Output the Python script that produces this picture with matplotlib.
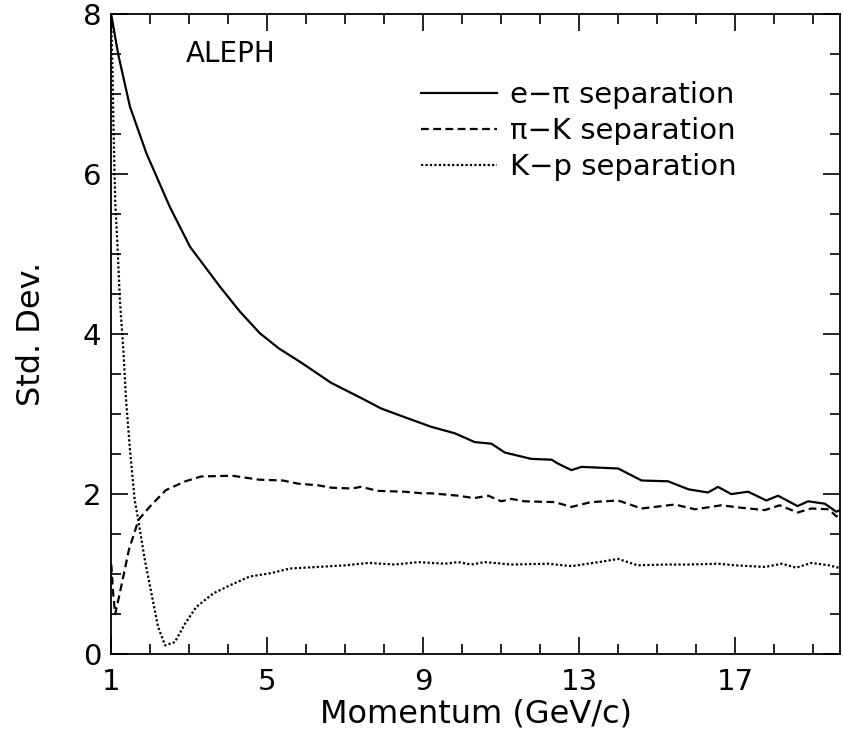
import matplotlib.pyplot as plt
import numpy as np

# e-pi separation (solid)
e_pi_p = [1.0, 1.18, 1.48, 1.9, 2.5, 3.02, 3.79, 4.3, 4.81, 5.3, 5.85, 6.64, 7.33, 7.92, 8.53, 9.21,
          9.81, 10.32, 10.75, 11.09, 11.77, 12.29, 12.46, 12.8, 13.06, 14.0, 14.6, 15.28, 15.8,
          16.3, 16.56, 16.9, 17.33, 17.8, 18.1, 18.6, 18.87, 19.3, 19.59, 19.7]
e_pi_s = [7.99, 7.49, 6.84, 6.26, 5.59, 5.09, 4.59, 4.28, 4.01, 3.82, 3.65, 3.39, 3.22, 3.07, 2.96, 2.84,
          2.76, 2.65, 2.63, 2.52, 2.44, 2.43, 2.38, 2.30, 2.34, 2.32, 2.17, 2.16, 2.06,
          2.02, 2.09, 2.00, 2.03, 1.92, 1.98, 1.85, 1.91, 1.88, 1.78, 1.80]

# pi-K separation (dashed)
pi_k_p = [1.0, 1.05, 1.1, 1.2, 1.3, 1.45, 1.7, 2.0, 2.4, 2.9, 3.3, 4.1, 4.8, 5.4, 5.8, 6.3, 6.64,
          7.16, 7.4, 7.85, 8.53, 8.96, 9.2, 9.9, 10.3, 10.67, 11.0, 11.26, 11.6, 12.37, 12.8,
          13.3, 14.0, 14.6, 15.45, 15.97, 16.64, 17.15, 17.76, 18.14, 18.6, 18.95, 19.4, 19.6, 19.7]
pi_k_s = [1.12, 0.75, 0.5, 0.72, 0.95, 1.3, 1.68, 1.85, 2.05, 2.16, 2.22, 2.23, 2.18, 2.17, 2.13, 2.11, 2.08,
          2.07, 2.09, 2.04, 2.03, 2.01, 2.01, 1.98, 1.95, 1.98, 1.91, 1.94, 1.91, 1.90, 1.84,
          1.90, 1.92, 1.82, 1.87, 1.81, 1.86, 1.83, 1.80, 1.86, 1.77, 1.82, 1.81, 1.72, 1.80]

# K-p separation (dotted)
k_p_p = [1.0, 1.03, 1.06, 1.1, 1.16, 1.22, 1.31, 1.38, 1.48, 1.6, 1.69, 1.86, 2.03, 2.2, 2.38,
         2.63, 2.89, 3.18, 3.62, 4.04, 4.55, 5.07, 5.58, 6.3, 7.0, 7.6, 8.27, 8.87, 9.56, 9.9,
         10.23, 10.58, 11.26, 12.2, 12.8, 13.5, 14.0, 14.5, 15.2, 15.8, 16.56, 17.0, 17.76,
         18.2, 18.56, 18.95, 19.4, 19.65]
k_p_s = [7.9, 7.3, 6.5, 5.67, 5.1, 4.43, 3.8, 3.17, 2.55, 1.93, 1.68, 1.18, 0.76, 0.34, 0.11,
         0.15, 0.38, 0.59, 0.76, 0.86, 0.97, 1.01, 1.07, 1.09, 1.11, 1.14, 1.12, 1.15, 1.13, 1.15,
         1.12, 1.15, 1.12, 1.13, 1.10, 1.15, 1.19, 1.11, 1.12, 1.12, 1.13, 1.11, 1.09,
         1.13, 1.08, 1.14, 1.11, 1.08]

fig = plt.figure(figsize=(8.43, 7.35), dpi=100)
ax = fig.add_axes([0.132, 0.110, 0.865, 0.871])

ax.plot(e_pi_p, e_pi_s, color='black', lw=1.6, ls='-', label="e\u2212\u03c0 separation")
ax.plot(pi_k_p, pi_k_s, color='black', lw=1.6, ls=(0, (3.5, 2)), label="\u03c0\u2212K separation")
ax.plot(k_p_p, k_p_s, color='black', lw=1.6, ls=(0, (1, 1)), label="K\u2212p separation")

ax.set_xlim(1, 19.7)
ax.set_ylim(0, 8)
ax.set_xticks([1, 5, 9, 13, 17])
ax.set_xticks(np.arange(1, 20, 1), minor=True)
ax.set_yticks([0, 2, 4, 6, 8])
ax.set_yticks(np.arange(0, 8.01, 0.5), minor=True)
ax.tick_params(which='both', direction='in', top=True, right=True, width=1.2)
ax.tick_params(which='major', length=12, labelsize=21)
ax.tick_params(axis='x', which='major', pad=10)
ax.tick_params(axis='y', which='major', pad=7)
ax.tick_params(which='minor', length=7)
for s in ax.spines.values():
    s.set_linewidth(1.3)

ax.set_xlabel("Momentum (GeV/c)", fontsize=23, labelpad=2)
ax.set_ylabel("Std. Dev.", fontsize=23, labelpad=26)

ax.text(2.92, 7.5, "ALEPH", fontsize=20, ha='left', va='center')

ax.legend(loc='upper left', bbox_to_anchor=(0.405, 0.918), frameon=False, fontsize=21,
          handlelength=2.6, handletextpad=0.45, labelspacing=0.28, borderpad=0)

fig.savefig("out.png", dpi=100)
